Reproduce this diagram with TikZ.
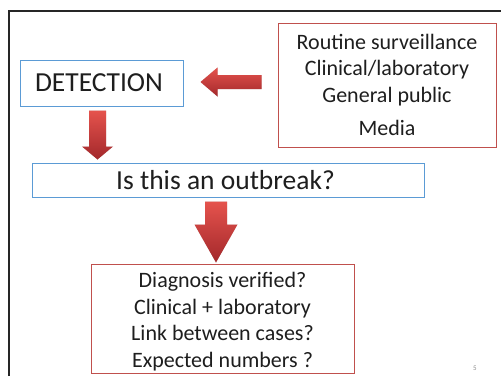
\documentclass[tikz,border=0pt]{standalone}
\usepackage{fontspec}
\setmainfont{Carlito}
\usetikzlibrary{calc}
\definecolor{boxblue}{HTML}{5B9BD5}
\definecolor{boxred}{HTML}{C0504D}
\definecolor{arrowlight}{HTML}{E5534D}
\definecolor{arrowdark}{HTML}{A3282B}
\definecolor{inktext}{HTML}{1E1E1E}
\tikzset{
  bluebox/.style={draw=boxblue, line width=1pt, text=inktext, inner sep=0pt},
  redbox/.style={draw=boxred, line width=1pt, text=inktext, inner sep=0pt, align=center},
  arrowbody/.style={top color=arrowlight, bottom color=arrowdark, draw=none},
  arrowshade/.style={fill=black, opacity=0.18, draw=none},
  bigtext/.style={font=\fontsize{27.5}{32}\selectfont},
  mediumtext/.style={font=\fontsize{27.5}{32}\selectfont},
  listtext/.style={font=\fontsize{22}{26.5}\selectfont},
}
\begin{document}
\begin{tikzpicture}[x=1pt,y=-1pt]
\useasboundingbox (0,0) rectangle (501,376);
\fill[white] (0,0) rectangle (501,376);
% slide frame
\draw[line width=2pt, black!85] (9,376) -- (9,11) -- (501,11);

% boxes
\node[bluebox, bigtext, minimum width=163pt, minimum height=46pt] (det) at (101.5,83) {DETECTION\hspace*{5pt}};
\node[redbox, listtext, minimum width=218pt, minimum height=124pt] (src) at (387,85)
  {Routine surveillance\\Clinical/laboratory\\General public\\[7pt]Media};
\node[bluebox, mediumtext, minimum width=392pt, minimum height=34pt] (q) at (228,180) {Is this an outbreak?\hspace*{5pt}};
\node[redbox, listtext, minimum width=263pt, minimum height=109pt] (chk) at (222.5,318.5)
  {\rule{0pt}{22pt}Diagnosis verified?\\Clinical + laboratory\\Link between cases?\\Expected numbers ?};
\node[text=black!45, font=\fontsize{7}{8}\selectfont] (pg) at (475,368) {5};

% arrow end points
\coordinate (a1t) at ($(src.west)+(-16,-3)$);
\coordinate (a1h) at ($(det.east)+(17,-1)$);
\coordinate (a2t) at ($(det.south)+(-4,4)$);
\coordinate (a2h) at ($(a2t |- q.north)+(0,-3)$);
\coordinate (a3t) at ($(q.south)+(-12,4)$);
\coordinate (a3h) at ($(a3t |- chk.north)+(0,-1)$);

% source -> detection
\foreach \s/\st in {1.8/arrowshade, 0/arrowbody}{
\path[\st, shift={(\s,\s)}] ($(a1t)+(0,-7)$) -- ($(a1h)+(17,-7)$) -- ($(a1h)+(17,-14.5)$) -- (a1h)
  -- ($(a1h)+(17,14.5)$) -- ($(a1h)+(17,7)$) -- ($(a1t)+(0,7)$) -- cycle;
}
% detection -> question
\foreach \s/\st in {1.8/arrowshade, 0/arrowbody}{
\path[\st, shift={(\s,\s)}] ($(a2t)+(-8.5,0)$) -- ($(a2h)+(-8.5,-13)$) -- ($(a2h)+(-15.5,-13)$) -- (a2h)
  -- ($(a2h)+(15.5,-13)$) -- ($(a2h)+(8.5,-13)$) -- ($(a2t)+(8.5,0)$) -- cycle;
}
% question -> checks
\foreach \s/\st in {1.8/arrowshade, 0/arrowbody}{
\path[\st, shift={(\s,\s)}] ($(a3t)+(-11,0)$) -- ($(a3h)+(-11,-38)$) -- ($(a3h)+(-21.5,-38)$) -- (a3h)
  -- ($(a3h)+(21.5,-38)$) -- ($(a3h)+(11,-38)$) -- ($(a3t)+(11,0)$) -- cycle;
}
\end{tikzpicture}
\end{document}
